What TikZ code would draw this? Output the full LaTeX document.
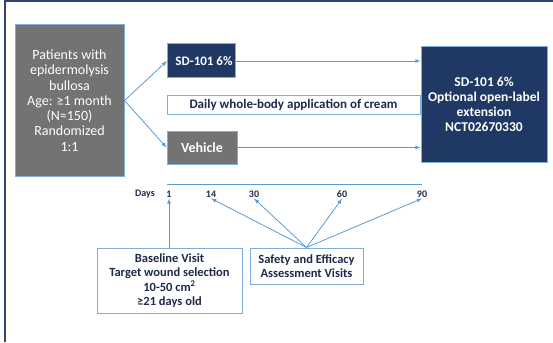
\documentclass[tikz,border=0pt]{standalone}
\usepackage{fontspec}
\setmainfont{Carlito}
\definecolor{navy}{HTML}{1F3864}
\definecolor{boxgray}{HTML}{737373}
\definecolor{edgeblue}{HTML}{7FAEDD}
\definecolor{arrowblue}{HTML}{5B9BD5}
\definecolor{inkblue}{HTML}{1F2A4A}
\tikzset{
  armbox/.style={draw=edgeblue,line width=1pt,inner sep=0pt,align=center,text=white},
  notebox/.style={draw=edgeblue,line width=1pt,fill=white,inner sep=0pt,align=center,text=inkblue,font=\bfseries\fontsize{12.5}{14.5}\selectfont},
  daylabel/.style={inner sep=1pt,text=inkblue,font=\bfseries\fontsize{10}{11}\selectfont},
  flow/.style={draw=arrowblue,line width=0.8pt,->,>=latex}
}
\begin{document}
\begin{tikzpicture}[x=1pt,y=-1pt]
   \useasboundingbox (0,0) rectangle (553,342);
   % frame, open at right and bottom
   \draw[navy!80!gray,line width=1.5pt] (5,342) -- (5,1) -- (553,1);
   % arms
   \node[armbox,fill=boxgray,minimum width=109pt,minimum height=151pt,
         font=\fontsize{14}{15.3}\selectfont] (pat) at (69.5,100.5)
     {Patients with\\epidermolysis\\bullosa\\Age: ≥1 month\\(N≈150)\\Randomized\\1:1};
   \node[armbox,fill=navy,minimum width=68pt,minimum height=34pt,anchor=west,
         font=\bfseries\fontsize{13}{15}\selectfont] (sd) at (167,61) {\hspace*{5pt}SD-101 6\%\hfill};
   \node[notebox,minimum width=253pt,minimum height=18pt,
         font=\bfseries\fontsize{13}{14}\selectfont] (daily) at (293.5,105)
     {Daily whole-body application of cream};
   \node[armbox,fill=boxgray,minimum width=70pt,minimum height=33pt,
         font=\bfseries\fontsize{14}{15}\selectfont] (veh) at (202,147.5) {Vehicle};
   \node[armbox,fill=navy,minimum width=126pt,minimum height=115pt,
         font=\bfseries\fontsize{13.5}{15}\selectfont] (ext) at (484,104.5)
     {SD-101 6\%\\Optional open-label\\extension\\NCT02670330};
   \draw[flow] (pat.east) -- (sd.west);
   \draw[flow] (pat.east) -- (veh.west);
   \draw[flow] (sd.east) -- (ext.west |- sd.east);
   \draw[flow] (veh.east) -- (ext.west |- veh.east);
   % timeline
   \coordinate (t0) at (167,184);
   \coordinate (t1) at (422,184);
   \draw[arrowblue,line width=0.8pt] (t0) -- (t1);
   \node[daylabel] (days) at (145,194) {Days};
   \node[daylabel] (d1) at (169,194) {1};
   \node[daylabel] (d14) at (211,194) {14};
   \node[daylabel] (d30) at (254,194) {30};
   \node[daylabel] (d60) at (342,194) {60};
   \node[daylabel] (d90) at (422,194) {90};
   % visits
   \node[notebox,minimum width=145pt,minimum height=65pt] (base) at (169.5,280.5)
     {Baseline Visit\\Target wound selection\\10-50 cm\textsuperscript{2}\\≥21 days old};
   \node[notebox,minimum width=113pt,minimum height=36pt] (safe) at (306.5,266)
     {Safety and Efficacy\\Assessment Visits};
   \draw[flow] (base.north -| d1.south) -- (d1.south);
   \foreach \d in {d14,d30,d60,d90}
     \draw[flow] (safe.north) -- (\d.south);
  \end{tikzpicture}
\end{document}
